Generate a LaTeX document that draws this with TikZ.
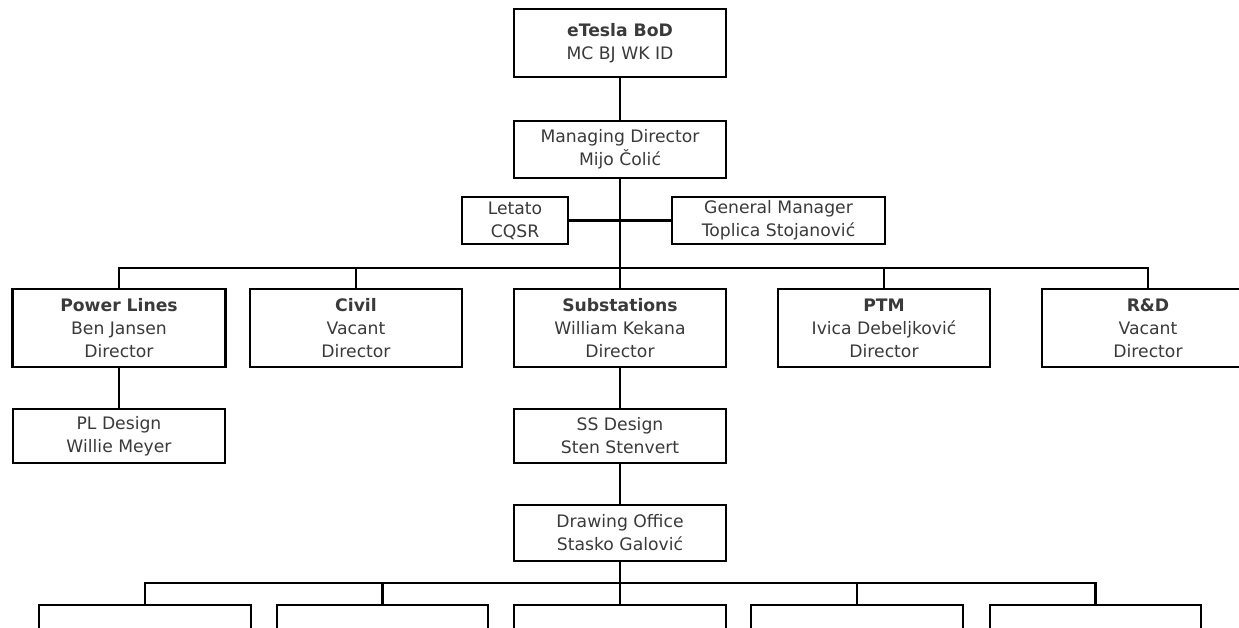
\documentclass[tikz,border=0pt]{standalone}
\usepackage{fontspec}
\setmainfont{DejaVu Sans}
\definecolor{txt}{RGB}{58,58,58}
\begin{document}
\begin{tikzpicture}[x=1pt,y=-1pt,
  box/.style={draw=black,line width=2.7pt,fill=white,inner sep=0pt,align=center,
    text=txt,font=\fontsize{17.2}{23}\selectfont,minimum width=212pt},
  conn/.style={draw=black,line width=2.7pt},
  thin/.style={draw=black,line width=2.3pt}]
\useasboundingbox (0,0) rectangle (1239,628);
\fill[white] (0,0) rectangle (1239,628);
% nodes
\node[box,minimum height=68pt] (bod) at (620,43) {\textbf{eTesla BoD}\\MC BJ WK ID};
\node[box,minimum height=57pt] (md) at (620,149.5) {Managing Director\\Mijo Čolić};
\node[box,minimum width=106pt,minimum height=47pt] (let) at (515,220.5) {Letato\\CQSR};
\node[box,minimum width=213pt,minimum height=47pt] (gm) at (778.5,220.5) {General Manager\\Toplica Stojanović};
\node[box,minimum width=213pt,minimum height=78pt] (pl) at (119,328) {\textbf{Power Lines}\\Ben Jansen\\Director};
\node[box,minimum height=78pt] (civ) at (356,328) {\textbf{Civil}\\Vacant\\Director};
\node[box,minimum height=78pt] (sub) at (620,328) {\textbf{Substations}\\William Kekana\\Director};
\node[box,minimum height=78pt] (ptm) at (884,328) {\textbf{PTM}\\Ivica Debeljković\\Director};
\node[box,minimum height=78pt] (rd) at (1148,328) {\textbf{R\&D}\\Vacant\\Director};
\node[box,minimum height=54pt] (pld) at (119,436) {PL Design\\Willie Meyer};
\node[box,minimum height=54pt] (ssd) at (620,436) {SS Design\\Sten Stenvert};
\node[box,minimum height=56pt] (dro) at (620,533) {Drawing Office\\Stasko Galović};
\node[box,line width=2.3pt,minimum height=50pt] (b1) at (145,630) {};
\node[box,line width=2.3pt,minimum width=211pt,minimum height=50pt] (b2) at (382.5,630) {};
\node[box,line width=2.3pt,minimum height=50pt] (b3) at (620,630) {};
\node[box,line width=2.3pt,minimum height=50pt] (b4) at (857,630) {};
\node[box,line width=2.3pt,minimum width=211pt,minimum height=50pt] (b5) at (1095.5,630) {};
% connectors
\coordinate (bus) at (620,268);
\coordinate (bus2) at (620,583);
\draw[conn] (bod.south) -- (md.north);
\draw[conn] (md.south) -- (sub.north);
\draw[conn] (let.east) -- (gm.west);
\draw[conn] (pl.north) |- (bus) -| (rd.north);
\draw[conn] (civ.north) -- (civ.north |- bus);
\draw[conn] (ptm.north) -- (ptm.north |- bus);
\draw[conn] (pl.south) -- (pld.north);
\draw[conn] (sub.south) -- (ssd.north);
\draw[conn] (ssd.south) -- (dro.north);
\draw[conn] (dro.south) -- (b3.north);
\draw[thin] (b1.north) |- (bus2) -| (b5.north);
\draw[thin] (b2.north) -- (b2.north |- bus2);
\draw[thin] (b4.north) -- (b4.north |- bus2);
\end{tikzpicture}
\end{document}
